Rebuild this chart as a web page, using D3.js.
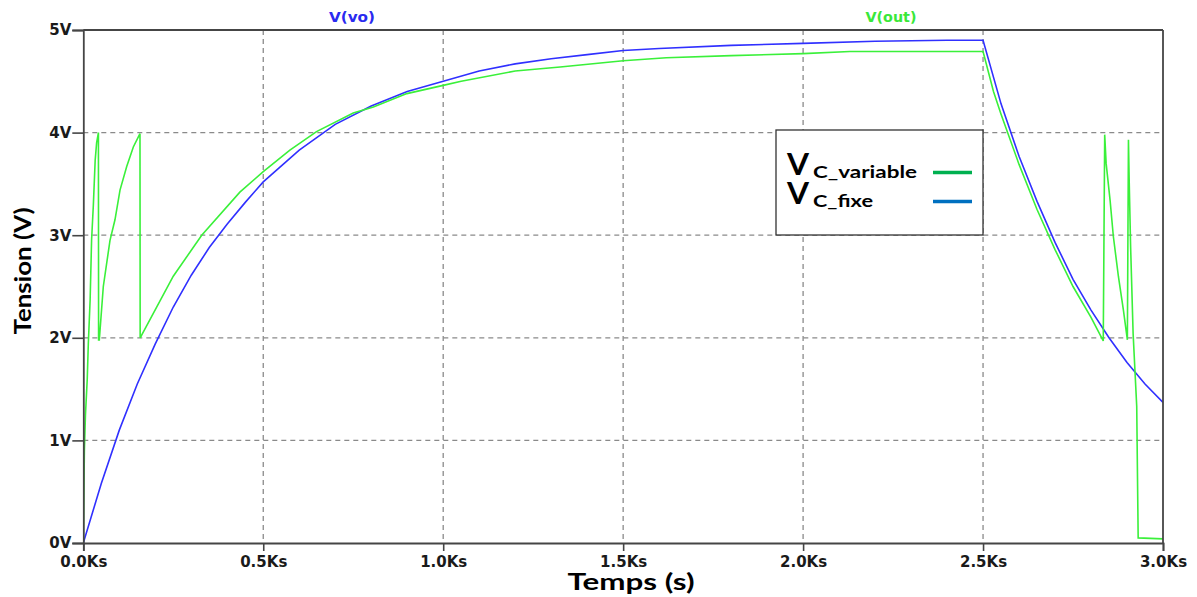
<!DOCTYPE html>
<html>
<head>
<meta charset="utf-8">
<script src="https://cdn.jsdelivr.net/npm/d3@7"></script>
<style>
  html, body { margin: 0; padding: 0; background: #ffffff; }
  svg { display: block; }
</style>
</head>
<body>
<svg id="chart" width="1197" height="597"></svg>
<script>
// ---- data ----
const xTicks = [0, 0.5, 1.0, 1.5, 2.0, 2.5, 3.0];          // Ks
const yTicks = [0, 1, 2, 3, 4, 5];                          // V
const xTickLabels = ["0.0Ks", "0.5Ks", "1.0Ks", "1.5Ks", "2.0Ks", "2.5Ks", "3.0Ks"];
const yTickLabels = ["0V", "1V", "2V", "3V", "4V", "5V"];

// V(vo) : fixed capacitor (blue)
const timeFixe = [0, 0.05, 0.1, 0.15, 0.2, 0.25, 0.3, 0.35, 0.4, 0.45, 0.5, 0.6, 0.7, 0.8, 0.9, 1.0, 1.1, 1.2, 1.3, 1.4, 1.5, 1.6, 1.8, 2.0, 2.2, 2.4, 2.5, 2.55, 2.6, 2.65, 2.7, 2.75, 2.8, 2.85, 2.9, 2.95, 3.0];
const vFixe    = [0, 0.58, 1.1, 1.55, 1.94, 2.3, 2.61, 2.88, 3.11, 3.32, 3.52, 3.83, 4.08, 4.26, 4.4, 4.5, 4.6, 4.67, 4.72, 4.76, 4.8, 4.82, 4.85, 4.87, 4.89, 4.9, 4.9, 4.28, 3.77, 3.33, 2.93, 2.57, 2.27, 2.0, 1.76, 1.55, 1.37];

// V(out) : variable capacitor (green)
const timeVariable = [0, 0.003, 0.006, 0.011, 0.014, 0.019, 0.023, 0.028, 0.033, 0.037, 0.042, 0.0425, 0.0445, 0.0556, 0.0742, 0.088, 0.102, 0.1206, 0.139, 0.1575, 0.158, 0.25, 0.329, 0.435, 0.5, 0.574, 0.648, 0.75, 0.806, 0.899, 1.0, 1.05, 1.2, 1.325, 1.5, 1.62, 1.8, 2.0, 2.13, 2.5, 2.529, 2.55, 2.6, 2.65, 2.7, 2.75, 2.8, 2.834, 2.838, 2.842, 2.853, 2.862, 2.876, 2.89, 2.901, 2.904, 2.906, 2.91, 2.917, 2.927, 2.931, 3.0];
const vVariable    = [0, 0.9, 1.25, 1.6, 1.95, 2.37, 2.95, 3.3, 3.73, 3.9, 4.0, 1.98, 1.98, 2.5, 2.95, 3.15, 3.44, 3.67, 3.86, 3.99, 2.0, 2.6, 3.0, 3.42, 3.62, 3.83, 4.01, 4.19, 4.25, 4.38, 4.46, 4.5, 4.6, 4.64, 4.7, 4.73, 4.75, 4.77, 4.79, 4.79, 4.4, 4.18, 3.69, 3.25, 2.86, 2.5, 2.2, 1.97, 3.98, 3.7, 3.34, 2.99, 2.6, 2.27, 1.98, 3.93, 3.54, 2.89, 2.04, 1.33, 0.05, 0.04];

const traceNames = ["V(vo)", "V(out)"];
const legendLabels = ["C_variable", "C_fixe"];

// ---- layout ----
const svg = d3.select("#chart");
const pLeft = 83.3, pRight = 1163, pTop = 30, pBottom = 543;
const x = d3.scaleLinear().domain([0, 3]).range([pLeft, pRight]);
const y = d3.scaleLinear().domain([0, 5]).range([pBottom, pTop]);

const blue = "#3030ff", green = "#3af03a";
const frameColor = "#454545";

svg.append("rect").attr("width", 1197).attr("height", 597).attr("fill", "#fff");

// grid
const grid = svg.append("g").attr("stroke", "#8a8a8a").attr("stroke-width", 1.3).attr("stroke-dasharray", "5,4");
grid.selectAll("line.h").data(yTicks.filter(d => d > 0 && d < 5)).enter().append("line")
  .attr("x1", pLeft).attr("x2", pRight).attr("y1", d => y(d)).attr("y2", d => y(d));
grid.selectAll("line.v").data(xTicks.filter(d => d > 0 && d < 3)).enter().append("line")
  .attr("y1", pTop).attr("y2", pBottom).attr("x1", d => x(d)).attr("x2", d => x(d));

// clip
svg.append("clipPath").attr("id", "clip").append("rect")
  .attr("x", pLeft).attr("y", pTop - 2).attr("width", pRight - pLeft).attr("height", pBottom - pTop + 2);

const line = d3.line().x(d => x(d[0])).y(d => y(d[1]));
const fixePts = timeFixe.map((t, i) => [t, vFixe[i]]);
const varPts = timeVariable.map((t, i) => [t, vVariable[i]]);

const plot = svg.append("g").attr("clip-path", "url(#clip)");
plot.append("path").datum(fixePts).attr("d", line).attr("fill", "none").attr("stroke", blue).attr("stroke-width", 1.6);
plot.append("path").datum(varPts).attr("d", line).attr("fill", "none").attr("stroke", green).attr("stroke-width", 1.6);

// frame
svg.append("line").attr("x1", pLeft).attr("x2", pRight).attr("y1", pTop).attr("y2", pTop).attr("stroke", frameColor).attr("stroke-width", 1.8);
svg.append("line").attr("x1", pRight).attr("x2", pRight).attr("y1", pTop).attr("y2", pBottom).attr("stroke", frameColor).attr("stroke-width", 1.8);

// axes
const yAxis = d3.axisLeft(y).tickValues(yTicks).tickFormat((d, i) => yTickLabels[i]).tickSize(11).tickPadding(1);
const xAxis = d3.axisBottom(x).tickValues(xTicks).tickFormat((d, i) => xTickLabels[i]).tickSize(8).tickPadding(5);

const gy = svg.append("g").attr("transform", `translate(${pLeft},0)`).call(yAxis);
const gx = svg.append("g").attr("transform", `translate(0,${pBottom})`).call(xAxis);
[gx, gy].forEach(g => {
  g.select(".domain").attr("stroke", frameColor).attr("stroke-width", 1.8);
  g.selectAll(".tick line").attr("stroke", frameColor).attr("stroke-width", 1.6);
  g.selectAll(".tick text").attr("fill", "#1a1a1a")
    .style("font-family", "'DejaVu Sans', sans-serif").style("font-weight", "bold").style("font-size", "15px");
});

// trace names on top
svg.append("text").attr("x", 352).attr("y", 22).attr("text-anchor", "middle")
  .attr("textLength", 46).attr("lengthAdjust", "spacingAndGlyphs")
  .attr("fill", "#2a2af0").style("font-family", "'DejaVu Sans', sans-serif").style("font-weight", "bold").style("font-size", "14px")
  .text(traceNames[0]);
svg.append("text").attr("x", 891).attr("y", 22).attr("text-anchor", "middle")
  .attr("textLength", 51).attr("lengthAdjust", "spacingAndGlyphs")
  .attr("fill", "#3ae83a").style("font-family", "'DejaVu Sans', sans-serif").style("font-weight", "bold").style("font-size", "14px")
  .text(traceNames[1]);

// axis titles
svg.append("text").attr("transform", "translate(31,271) rotate(-90)").attr("text-anchor", "middle")
  .attr("textLength", 127).attr("lengthAdjust", "spacingAndGlyphs")
  .attr("fill", "#000").style("font-family", "Lato, sans-serif").style("font-weight", "bold").style("font-size", "23px")
  .text("Tension (V)");
svg.append("text").attr("x", 631).attr("y", 590).attr("text-anchor", "middle")
  .attr("textLength", 127).attr("lengthAdjust", "spacingAndGlyphs")
  .attr("fill", "#000").style("font-family", "Lato, sans-serif").style("font-weight", "bold").style("font-size", "22px")
  .text("Temps (s)");

// legend
const lg = svg.append("g");
lg.append("rect").attr("x", 776).attr("y", 130).attr("width", 207).attr("height", 105)
  .attr("fill", "#fff").attr("stroke", "#333").attr("stroke-width", 1.3);
const legendColors = ["#00b050", "#0070c0"];
const rowBase = [175, 204];
const subLen = [104, 60];
legendLabels.forEach((lab, i) => {
  lg.append("text").attr("x", 787).attr("y", rowBase[i]).attr("fill", "#000")
    .attr("textLength", 22).attr("lengthAdjust", "spacingAndGlyphs")
    .style("font-family", "Lato, sans-serif").style("font-weight", "bold").style("font-size", "31px").text("V");
  lg.append("text").attr("x", 813).attr("y", rowBase[i] + 3).attr("fill", "#000")
    .attr("textLength", subLen[i]).attr("lengthAdjust", "spacingAndGlyphs")
    .style("font-family", "Lato, sans-serif").style("font-weight", "bold").style("font-size", "17px").text(lab);
  lg.append("line").attr("x1", 933).attr("x2", 972).attr("y1", rowBase[i] - 2.5).attr("y2", rowBase[i] - 2.5)
    .attr("stroke", legendColors[i]).attr("stroke-width", 3.5);
});
</script>
</body>
</html>
